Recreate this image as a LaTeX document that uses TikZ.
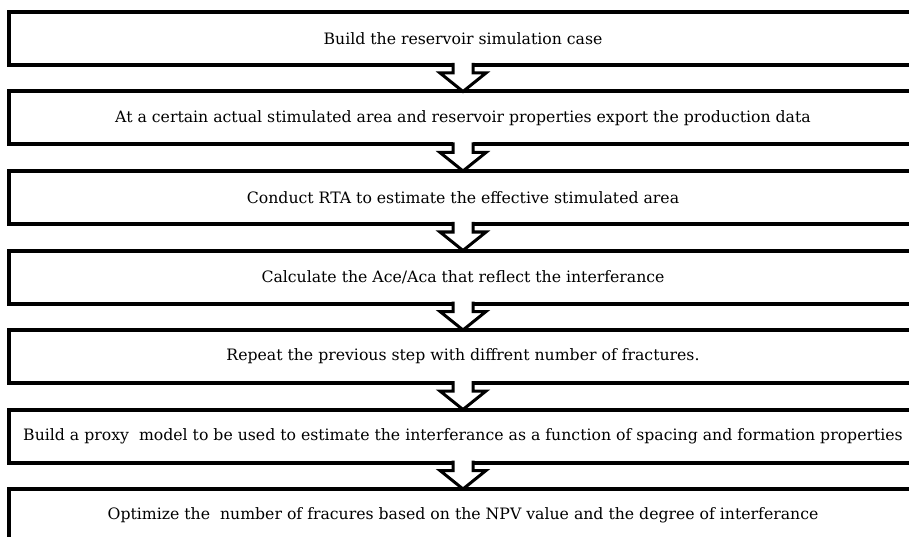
\documentclass[tikz,border=0pt]{standalone}
\usepackage{fontspec}
\setmainfont{DejaVu Serif}
\begin{document}
\begin{tikzpicture}[x=1pt,y=-1pt,
  stepbox/.style={draw, line width=4pt, rectangle, minimum width=908pt, minimum height=53pt,
    outer sep=0pt, inner sep=0pt, font=\fontsize{15.7}{19}\selectfont},
  arrline/.style={draw, line width=3pt, line join=miter}]
\useasboundingbox (0,0) rectangle (909,537);
\clip (0,0) rectangle (909,537);
\node[stepbox] (b1) at (463,38.5) {Build the reservoir simulation case};
\node[stepbox] (b2) at (463,118) {At a certain actual stimulated area and reservoir properties export the production data};
\node[stepbox] (b3) at (463,197.5) {Conduct RTA to estimate the effective stimulated area};
\node[stepbox] (b4) at (463,277) {Calculate the Ace/Aca that reflect the interferance};
\node[stepbox] (b5) at (463,356.5) {Repeat the previous step with diffrent number of fractures.};
\node[stepbox] (b6) at (463,436) {Build a proxy\ \ model to be used to estimate the interferance as a function of spacing and formation properties};
\node[stepbox] (b7) at (463,515.5) {Optimize the\ \ number of fracures based on the NPV value and the degree of interferance};
\foreach \a/\b in {b1/b2,b2/b3,b3/b4,b4/b5,b5/b6,b6/b7} {
  \fill[white] ([xshift=-10pt,yshift=2.5pt]\a.south) -- ([xshift=-10pt,yshift=-8pt]\a.south)
    -- ([xshift=-23pt,yshift=-8pt]\a.south) -- (\b.north) -- ([xshift=23pt,yshift=-8pt]\a.south)
    -- ([xshift=10pt,yshift=-8pt]\a.south) -- ([xshift=10pt,yshift=2.5pt]\a.south) -- cycle;
  \draw[arrline] ([xshift=-10pt,yshift=2pt]\a.south) -- ([xshift=-10pt,yshift=-8pt]\a.south)
    -- ([xshift=-23pt,yshift=-8pt]\a.south) -- (\b.north) -- ([xshift=23pt,yshift=-8pt]\a.south)
    -- ([xshift=10pt,yshift=-8pt]\a.south) -- ([xshift=10pt,yshift=2pt]\a.south);
}
\end{tikzpicture}
\end{document}
